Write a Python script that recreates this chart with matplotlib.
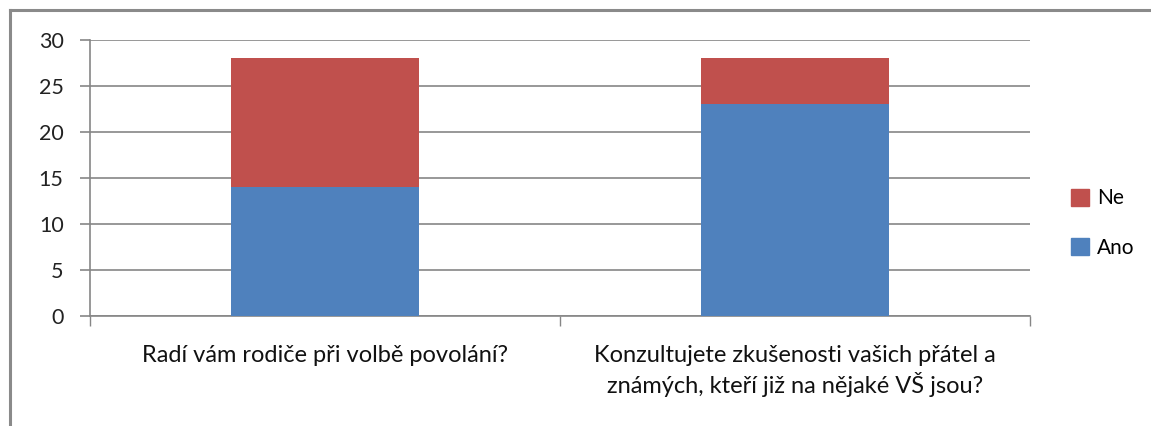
import matplotlib
matplotlib.use("Agg")
import matplotlib.pyplot as plt
from matplotlib.patches import Patch
from matplotlib.lines import Line2D

categories = ["Radí vám rodiče při volbě povolání?",
              "Konzultujete zkušenosti vašich přátel a\nznámých, kteří již na nějaké VŠ jsou?"]
ano = [14, 23]
ne = [14, 5]
yticks = [0, 5, 10, 15, 20, 25, 30]

plt.rcParams['font.family'] = ['Lato', 'DejaVu Sans']
W, H = 1151, 426
fig = plt.figure(figsize=(W/100, H/100), dpi=100)
ax = fig.add_axes([90/W, (H-316)/H, 940/W, 276/H])

blue = '#4F81BD'
red = '#C0504D'
grid = '#868686'
x = [0, 1]
ax.bar(x, ano, width=0.4, color=blue, zorder=3, label='Ano')
ax.bar(x, ne, bottom=ano, width=0.4, color=red, zorder=3, label='Ne')

ax.set_xlim(-0.5, 1.5)
ax.set_ylim(0, 30)
ax.set_yticks(yticks)
ax.set_yticklabels([str(v) for v in yticks], fontsize=15.5, color='#222222')
ax.yaxis.grid(True, color=grid, linewidth=1.2, zorder=0)
ax.tick_params(axis='y', length=7, width=1.2, color=grid, pad=12)
ax.set_xticks([-0.5, 0.5, 1.5])
ax.set_xticklabels([])
ax.tick_params(axis='x', length=7, width=1.0, color=grid)
for i, lab in enumerate(categories):
    ax.text(x[i], -0.105, lab, transform=ax.get_xaxis_transform(), ha='center', va='top',
            fontsize=17, color='#111111', linespacing=1.3)
for s in ['top', 'right']:
    ax.spines[s].set_visible(False)
ax.spines['left'].set_color(grid)
ax.spines['bottom'].set_color(grid)
ax.spines['left'].set_linewidth(1.2)
ax.spines['bottom'].set_linewidth(1.2)

handles = [Patch(color=red, label='Ne'), Patch(color=blue, label='Ano')]
fig.legend(handles=handles, loc='center left', bbox_to_anchor=(1071/W, 1 - 223/H),
           frameon=False, fontsize=15, handlelength=0.85, handleheight=0.85,
           labelspacing=1.4, handletextpad=0.4, borderaxespad=0, borderpad=0)

# outer border (top and left)
fig.add_artist(Line2D([10/W, 1], [1 - 10/H, 1 - 10/H], transform=fig.transFigure,
                      color='#8a8a8a', linewidth=2.2))
fig.add_artist(Line2D([10/W, 10/W], [0, 1 - 10/H], transform=fig.transFigure,
                      color='#8a8a8a', linewidth=2.2))

fig.savefig('out.png', dpi=100)
